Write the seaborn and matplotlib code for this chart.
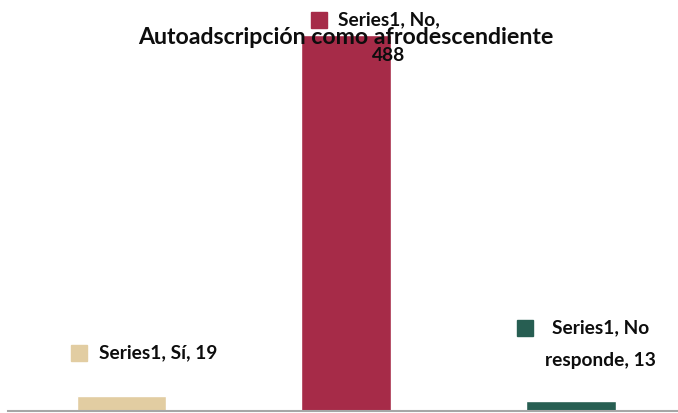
import matplotlib
matplotlib.use("Agg")
import matplotlib.pyplot as plt
import seaborn as sns
import pandas as pd

categories = ["Sí", "No", "No responde"]
values = [19, 488, 13]
colors = ["#E2CDA2", "#A62B48", "#275E52"]
series_name = "Series1"
title = "Autoadscripción como afrodescendiente"

sns.set_theme(style="white")
plt.rcParams["font.family"] = ["Lato", "DejaVu Sans"]

df = pd.DataFrame({"cat": categories, "val": values})

fig = plt.figure(figsize=(6.78, 4.13), dpi=100)
ax = fig.add_axes([8 / 678, 2 / 413, 670 / 678, 411 / 413])

sns.barplot(data=df, x="cat", y="val", hue="cat", palette=colors,
            width=0.4, legend=False, ax=ax, saturation=1)

ax.set_xlim(-0.505, 2.476)
ax.set_ylim(0, 533)
for s in ["top", "right", "left"]:
    ax.spines[s].set_visible(False)
ax.spines["bottom"].set_color("#A6A6A6")
ax.spines["bottom"].set_linewidth(1.5)
ax.set_xticks([])
ax.set_yticks([])
ax.set_xlabel("")
ax.set_ylabel("")

fs = 13.8
tkw = dict(fontsize=fs, fontweight="bold", color="#0d0d0d", va="center")
mk = dict(marker="s", markersize=11, linestyle="none", clip_on=False)

# Label for "Sí"
ax.plot([-0.191], [values[0] + 56], color=colors[0], **mk)
ax.text(-0.1, values[0] + 56, f"{series_name}, {categories[0]}, {values[0]}",
        ha="left", **tkw)

# Label for "No" (above the bar)
ax.plot([0.877], [values[1] + 19], color=colors[1], **mk)
ax.text(1.19, values[1] + 19, f"{series_name}, {categories[1]},", ha="center", **tkw)
ax.text(1.19, values[1] - 27, f"{values[1]}", ha="center", **tkw)

# Label for "No responde"
ax.plot([1.795], [values[2] + 95], color=colors[2], **mk)
ax.text(2.131, values[2] + 95, f"{series_name}, No", ha="center", **tkw)
ax.text(2.131, values[2] + 52, f"responde, {values[2]}", ha="center", **tkw)

fig.text(0.5096, 1 - 37 / 413, title, ha="center", va="center",
         fontsize=16.7, fontweight="bold", color="#0d0d0d")

fig.savefig("out.png", dpi=100)
